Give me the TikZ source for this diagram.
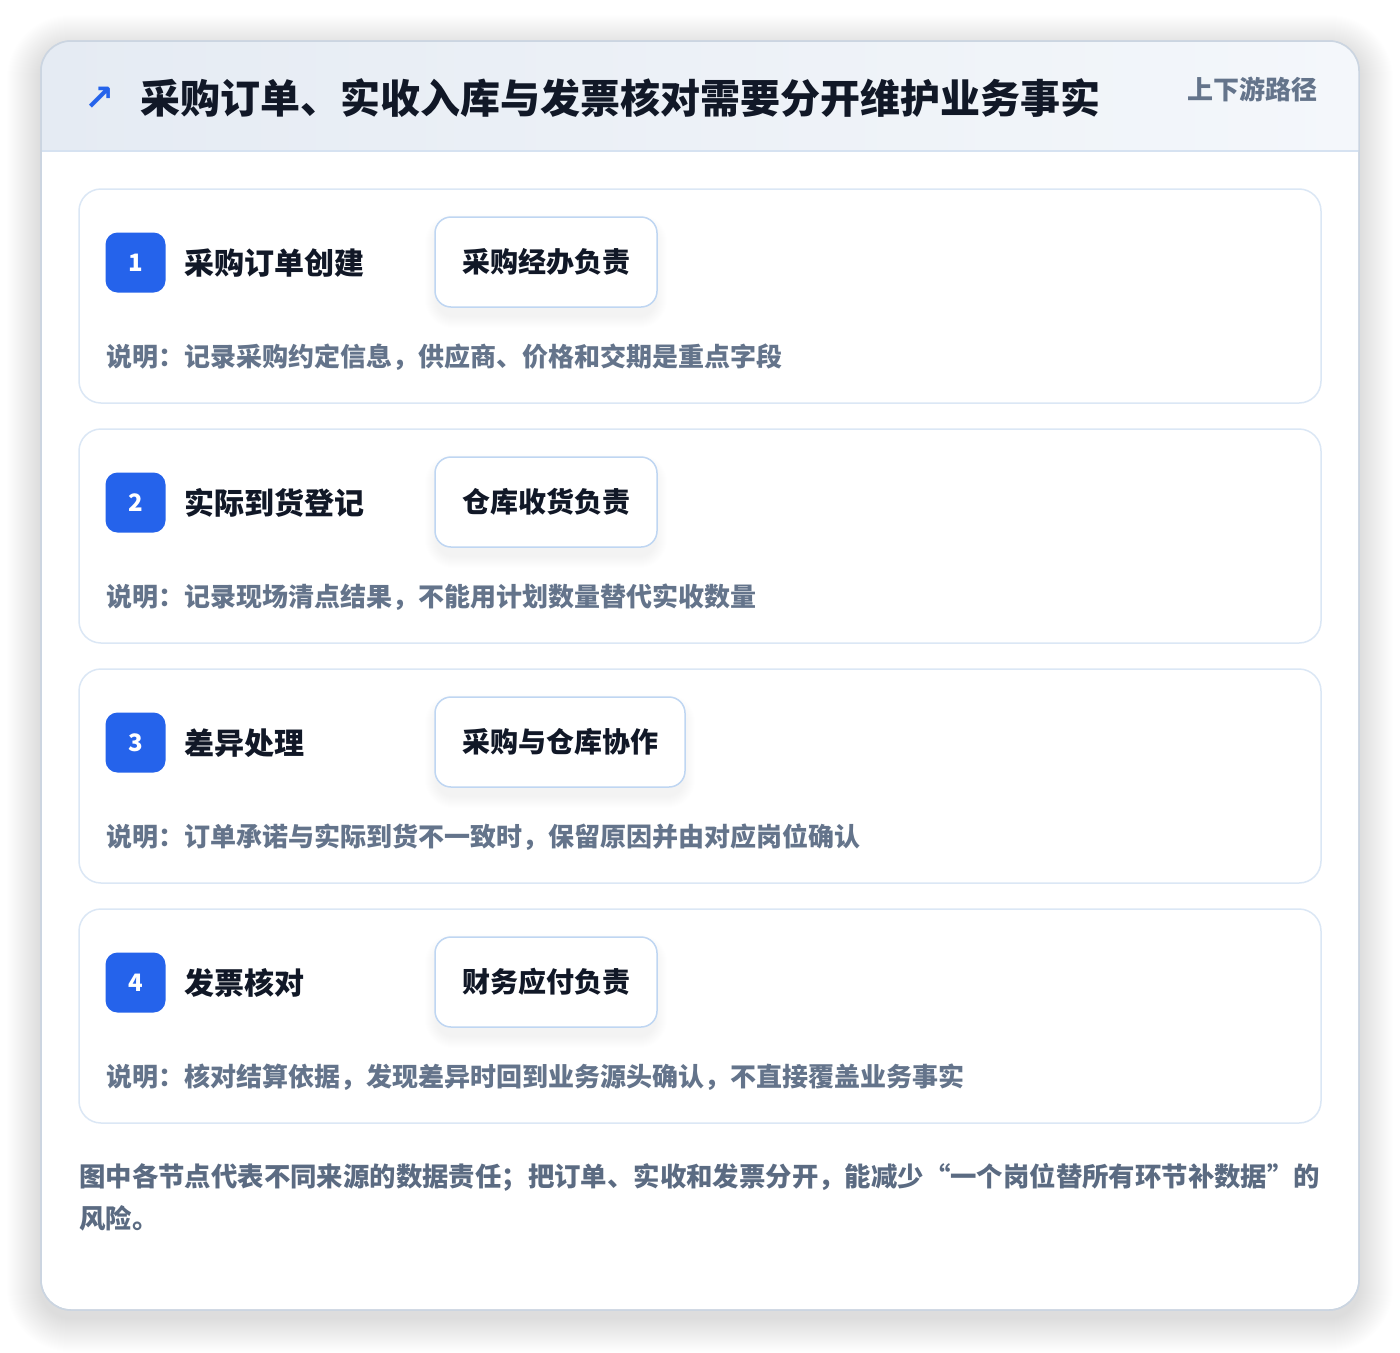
\documentclass[tikz,border=0pt]{standalone}
\usepackage{fontspec}
\setmainfont{Noto Sans CJK SC}
\newfontfamily\symf{DejaVu Sans}
\definecolor{cardborder}{HTML}{CBD5E1}
\definecolor{stepborder}{HTML}{DBE7F5}
\definecolor{roleborder}{HTML}{BFD6F2}
\definecolor{headl}{HTML}{E5EBF3}
\definecolor{headr}{HTML}{F4F7FB}
\definecolor{headline}{HTML}{D6E2F1}
\definecolor{badge}{HTML}{2563EB}
\definecolor{ink}{HTML}{111827}
\definecolor{muted}{HTML}{64748B}
\definecolor{foot}{HTML}{5B6B82}
\tikzset{
  maincard/.style={draw=cardborder, line width=1.5pt, rounded corners=30pt, minimum width=1318pt, minimum height=1269pt, inner sep=0pt},
  stepcard/.style={draw=stepborder, fill=white, line width=1.5pt, rounded corners=22pt, minimum width=1242pt, minimum height=214pt, inner sep=0pt},
  badgebox/.style={fill=badge, rounded corners=12pt, minimum width=60pt, minimum height=60pt, inner sep=0pt, text=white, font=\bfseries\fontsize{24}{28}\selectfont},
  steptitle/.style={anchor=west, inner sep=0pt, text=ink, font=\bfseries\fontsize{30}{36}\selectfont},
  rolebox/.style={draw=roleborder, fill=white, line width=1.5pt, rounded corners=16pt, minimum height=90pt, inner sep=0pt, text=ink, font=\bfseries\fontsize{28}{32}\selectfont},
  desctext/.style={anchor=west, inner sep=0pt, text=muted, font=\bfseries\fontsize{26}{30}\selectfont},
}
\begin{document}
\begin{tikzpicture}[x=1pt,y=-1pt]
\useasboundingbox (0,0) rectangle (1400,1352);
\fill[white] (0,0) rectangle (1400,1352);
% soft shadow of main card
\foreach \i in {1,...,34}{
  \fill[black, opacity=0.0032, rounded corners={30+\i}] ({41-\i},{49-\i}) rectangle ({1359+\i},{1318+\i});
}
\node[maincard, fill=white] (main) at (700,675.5) {};
\begin{scope}
  \clip[rounded corners=30pt] (41,41) rectangle (1359,1310);
  \shade[left color=headl, right color=headr] (41,41) rectangle (1359,151);
  \draw[headline, line width=1.5pt] (41,151) -- (1359,151);
\end{scope}
\node[maincard] (mainborder) at (700,675.5) {};
\node[anchor=west, inner sep=0pt, text=badge, font=\symf\bfseries\fontsize{36}{40}\selectfont] (arrow) at (84,99) {↗};
\node[anchor=west, inner sep=0pt, text=ink, font=\bfseries\fontsize{40}{48}\selectfont] (title) at (140,98) {采购订单、实收入库与发票核对需要分开维护业务事实};
\node[anchor=east, inner sep=0pt, text=muted, font=\bfseries\fontsize{26}{30}\selectfont] (route) at (1318,89) {上下游路径};
% steps
\foreach \n/\t/\r/\w/\d in {
  1/采购订单创建/采购经办负责/222/说明：记录采购约定信息，供应商、价格和交期是重点字段,
  2/实际到货登记/仓库收货负责/222/说明：记录现场清点结果，不能用计划数量替代实收数量,
  3/差异处理/采购与仓库协作/250/说明：订单承诺与实际到货不一致时，保留原因并由对应岗位确认,
  4/发票核对/财务应付负责/222/说明：核对结算依据，发现差异时回到业务源头确认，不直接覆盖业务事实}{
  \pgfmathsetmacro{\off}{(\n-1)*240}
  \node[stepcard] (s\n) at (700,{296+\off}) {};
  \foreach \k in {1,...,12}{
    \fill[black, opacity=0.004, rounded corners={16+\k}] ({437-\k},{226+\off-\k}) rectangle ({433+\w+\k},{316+\off+\k});
  }
  \node[badgebox] (b\n) at (135.5,{262.5+\off}) {\n};
  \node[steptitle] (t\n) at (184,{263+\off}) {\t};
  \node[rolebox, minimum width=\w pt] (r\n) at ({435+\w/2},{262+\off}) {\r};
  \node[desctext] (d\n) at (106,{357+\off}) {\d};
}
\node[anchor=north west, inner sep=0pt, align=left, text=foot, font=\bfseries\fontsize{26.4}{42}\selectfont] (footer) at (79,1163) {图中各节点代表不同来源的数据责任；把订单、实收和发票分开，能减少“一个岗位替所有环节补数据”的\\风险。};
\end{tikzpicture}
\end{document}
